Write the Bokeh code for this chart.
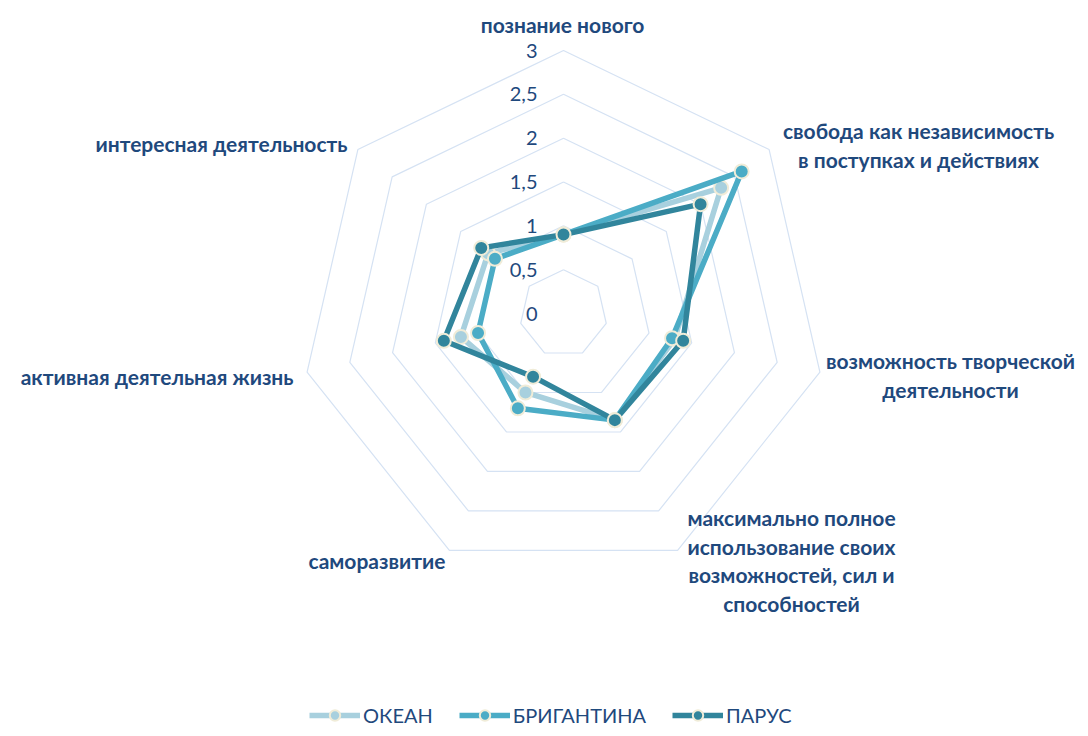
import numpy as np
from bokeh.plotting import figure
from bokeh.models import Range1d, Legend, LegendItem
from bokeh.core.properties import value
from bokeh.embed import file_html
from bokeh.resources import INLINE

# ---------------- data ----------------
categories = [
    "познание нового",
    "свобода как независимость\nв поступках и действиях",
    "возможность творческой\nдеятельности",
    "максимально полное\nиспользование своих\nвозможностей, сил и\nспособностей",
    "саморазвитие",
    "активная деятельная жизнь",
    "интересная деятельность",
]
series_names = ["ОКЕАН", "БРИГАНТИНА", "ПАРУС"]
okean = [0.9, 2.3, 1.3, 1.35, 1.0, 1.2, 1.1]
brigantina = [0.9, 2.6, 1.27, 1.35, 1.2, 1.0, 1.0]
parus = [0.9, 2.0, 1.4, 1.35, 0.8, 1.4, 1.2]
tick_values = [0, 0.5, 1, 1.5, 2, 2.5, 3]
tick_labels = ["0", "0,5", "1", "1,5", "2", "2,5", "3"]

# ---------------- layout / style ----------------
W, H = 1080, 728
CX, CY = 563, 313          # centre of radar in canvas pixels
S = 263 / 3                # pixels per unit
TEXT = "#1F497D"
GRID = "#D5E2F3"
colors = ["#A8D0DE", "#4BACC6", "#31859C"]
outline = "#F0ECD8"
# label anchors: (dx, dy) px from centre of first line, alignment
label_layout = [
    (-1, -289, "center"),
    (355, -183, "center"),
    (387, 47, "center"),
    (228, 204, "center"),
    (-118, 247, "right"),
    (-270, 63, "right"),
    (-216, -170, "right"),
]
LINE_STEP = 28.7

p = figure(width=W, height=H, output_backend="svg", toolbar_location=None,
           x_range=Range1d(-CX / S, (W - CX) / S),
           y_range=Range1d(-(H - CY) / S, CY / S),
           x_axis_type=None, y_axis_type=None, min_border=0)
p.outline_line_color = None
p.grid.visible = False
p.background_fill_color = "white"

n = len(categories)
theta = np.arange(n) * 2 * np.pi / n
sx, cy = np.sin(theta), np.cos(theta)

# grid polygons
gx, gy = [], []
for t in tick_values[1:]:
    gx.append(list(t * sx) + [t * sx[0]])
    gy.append(list(t * cy) + [t * cy[0]])
p.multi_line(gx, gy, line_color=GRID, line_width=1.2)

# tick labels
p.text(x=[0] * len(tick_values), y=tick_values, text=tick_labels,
       x_offset=-26, text_align="right", text_baseline="middle",
       text_font=value("Lato"), text_font_size="20px", text_color=TEXT)

# category labels
lx, ly, lt, la = [], [], [], []
for cat, (dx, dy, al) in zip(categories, label_layout):
    for i, line in enumerate(cat.split("\n")):
        lx.append(dx / S)
        ly.append(-(dy + i * LINE_STEP) / S)
        lt.append(line)
        la.append(al)
p.text(x=lx, y=ly, text=lt, text_align=la, text_baseline="middle",
       text_font=value("Lato"), text_font_style="bold",
       text_font_size="21px", text_color=TEXT)

# series
items = []
for name, vals, col in zip(series_names, [okean, brigantina, parus], colors):
    v = np.array(vals)
    xs = list(v * sx) + [v[0] * sx[0]]
    ys = list(v * cy) + [v[0] * cy[0]]
    lr = p.line(xs, ys, line_color=col, line_width=5.5, line_join="round")
    sr = p.scatter(v * sx, v * cy, size=14, fill_color=col,
                   line_color=outline, line_width=2)
    items.append(LegendItem(label=name, renderers=[lr, sr]))

legend = Legend(items=items, orientation="horizontal", location=(309, 0),
                glyph_width=51, glyph_height=26, label_standoff=3, spacing=26,
                padding=0, margin=0, border_line_alpha=0,
                background_fill_alpha=0,
                label_text_font="Lato", label_text_font_size="20px",
                label_text_color=TEXT, label_text_baseline="middle")
p.add_layout(legend)

open("out.html", "w").write(file_html(p, INLINE))
